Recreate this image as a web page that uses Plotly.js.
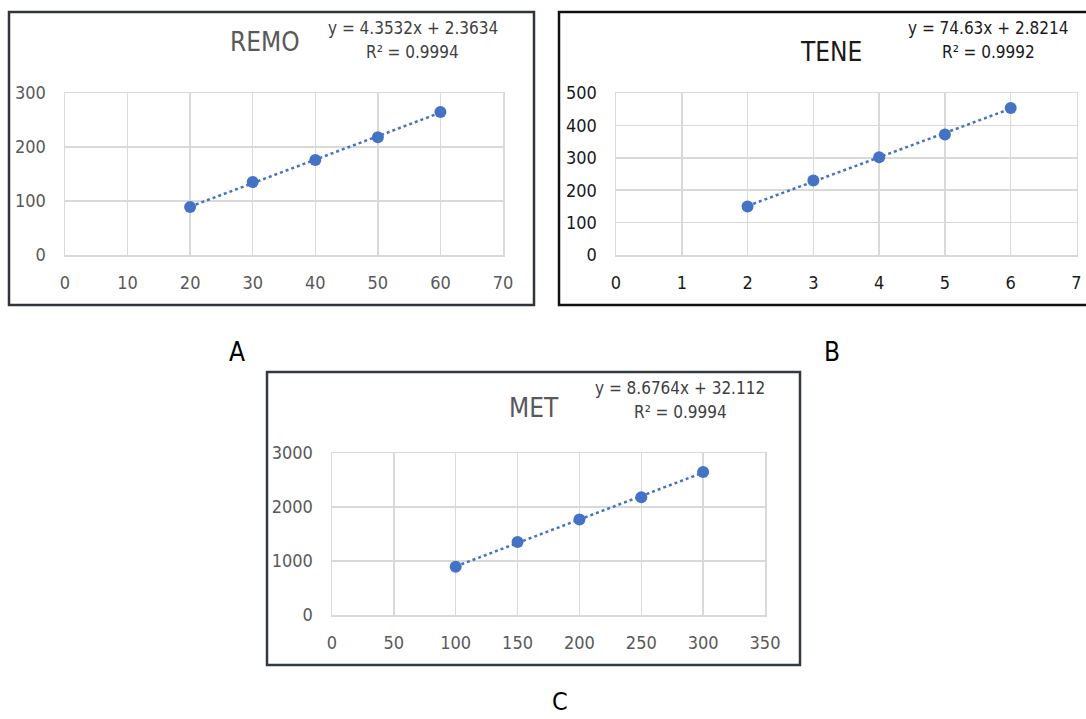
<!DOCTYPE html>
<html>
<head>
<meta charset="utf-8">
<script src="https://cdn.plot.ly/plotly-3.0.1.min.js"></script>
<style>
html,body{margin:0;padding:0;background:#fff;}
#chart{width:1086px;height:719px;}
</style>
</head>
<body>
<div id="chart"></div>
<script>
// ---- data ----
const remoX = [20, 30, 40, 50, 60];
const remoY = [89, 135, 176, 218, 265];
const teneX = [2, 3, 4, 5, 6];
const teneY = [150, 230, 302, 372, 454];
const metX = [100, 150, 200, 250, 300];
const metY = [893, 1350, 1770, 2180, 2650];

const titles = ["REMO", "TENE", "MET"];
const equations = ["y = 4.3532x + 2.3634", "y = 74.63x + 2.8214", "y = 8.6764x + 32.112"];
const r2Labels = ["R² = 0.9994", "R² = 0.9992", "R² = 0.9994"];
const panelLabels = ["A", "B", "C"];

// ---- helpers ----
const W = 1086, H = 719;
const px = x => x / W;
const py = y => 1 - y / H;
const FONT = '"Liberation Sans Narrow", "DejaVu Sans Condensed", "Liberation Sans", sans-serif';
const BLUE = '#4472C4';

function fit(xs, ys) {
  const n = xs.length;
  const mx = xs.reduce((a, b) => a + b, 0) / n;
  const my = ys.reduce((a, b) => a + b, 0) / n;
  let sxy = 0, sxx = 0;
  for (let i = 0; i < n; i++) { sxy += (xs[i] - mx) * (ys[i] - my); sxx += (xs[i] - mx) ** 2; }
  const m = sxy / sxx, b = my - m * mx;
  const x0 = Math.min(...xs), x1 = Math.max(...xs);
  return { x: [x0, x1], y: [m * x0 + b, m * x1 + b] };
}

function series(xs, ys, xa, ya) {
  const f = fit(xs, ys);
  return [
    { x: f.x, y: f.y, xaxis: xa, yaxis: ya, mode: 'lines', type: 'scatter',
      line: { color: BLUE, width: 2.5, dash: 'dot' }, hoverinfo: 'skip', showlegend: false },
    { x: xs, y: ys, xaxis: xa, yaxis: ya, mode: 'markers', type: 'scatter',
      marker: { color: BLUE, size: 12 }, showlegend: false }
  ];
}

const data = [].concat(
  series(remoX, remoY, 'x', 'y'),
  series(teneX, teneY, 'x2', 'y2'),
  series(metX, metY, 'x3', 'y3')
);

function xax(dom, range, dtick, color) {
  return { domain: dom, range: range, dtick: dtick, tick0: 0, showgrid: true, gridcolor: '#d9d9d9', gridwidth: 1.5,
    zeroline: false, showline: true, linecolor: '#d9d9d9', linewidth: 1.5, mirror: true, ticks: '',
    ticklabelstandoff: 11, tickfont: { family: FONT, size: 18, color: color }, fixedrange: true };
}
function yax(dom, range, dtick, color) {
  return { domain: dom, range: range, dtick: dtick, tick0: 0, showgrid: true, gridcolor: '#d9d9d9', gridwidth: 1.5,
    zeroline: false, showline: true, linecolor: '#d9d9d9', linewidth: 1.5, mirror: true, ticks: '',
    ticklabelstandoff: 14, tickfont: { family: FONT, size: 18, color: color }, fixedrange: true };
}

const GRAY = '#595959';
const DARK = '#1a1a1a';

function ann(text, x, y, size, color) {
  return { text: text, x: px(x), y: py(y), xref: 'paper', yref: 'paper', showarrow: false,
    xanchor: 'center', yanchor: 'middle', font: { family: FONT, size: size, color: color } };
}

const annotations = [
  ann(titles[0], 265, 42, 26, GRAY),
  ann(equations[0], 413, 28, 17, '#404040'),
  ann(r2Labels[0], 413, 52, 17, '#404040'),
  ann(titles[1], 831, 52, 26, DARK),
  ann(equations[1], 988, 28, 17, DARK),
  ann(r2Labels[1], 988, 52, 17, DARK),
  ann(titles[2], 534, 408, 26, GRAY),
  ann(equations[2], 680, 388, 17, '#404040'),
  ann(r2Labels[2], 680, 412, 17, '#404040'),
  ann(panelLabels[0], 237, 352, 26, '#000'),
  ann(panelLabels[1], 832, 352, 26, '#000'),
  ann(panelLabels[2], 560, 701, 25, '#000')
];

function box(x0, y0, x1, y1, color) {
  return { type: 'rect', xref: 'paper', yref: 'paper', x0: px(x0), x1: px(x1), y0: py(y1), y1: py(y0),
    line: { color: color, width: 2.5 }, fillcolor: 'rgba(0,0,0,0)', layer: 'above' };
}

const layout = {
  width: W, height: H, margin: { l: 0, r: 0, t: 0, b: 0 },
  paper_bgcolor: '#fff', plot_bgcolor: '#fff', showlegend: false,
  font: { family: FONT },
  xaxis: xax([px(65), px(503)], [0, 70], 10, GRAY),
  yaxis: Object.assign(yax([py(255), py(93)], [0, 300], 100, GRAY), { anchor: 'x' }),
  xaxis2: Object.assign(xax([px(616), px(1076.5)], [0, 7], 1, DARK), { anchor: 'y2' }),
  yaxis2: Object.assign(yax([py(255), py(93)], [0, 500], 100, DARK), { anchor: 'x2' }),
  xaxis3: Object.assign(xax([px(332), px(765)], [0, 350], 50, GRAY), { anchor: 'y3' }),
  yaxis3: Object.assign(yax([py(615), py(453)], [0, 3000], 1000, GRAY), { anchor: 'x3' }),
  annotations: annotations,
  shapes: [
    box(9, 12, 534, 305, '#30353d'),
    box(559, 12, 1100, 305, '#111'),
    box(267, 372, 800, 665, '#333a42')
  ]
};
layout.xaxis.anchor = 'y';

Plotly.newPlot('chart', data, layout, { staticPlot: true, displayModeBar: false });
</script>
</body>
</html>
